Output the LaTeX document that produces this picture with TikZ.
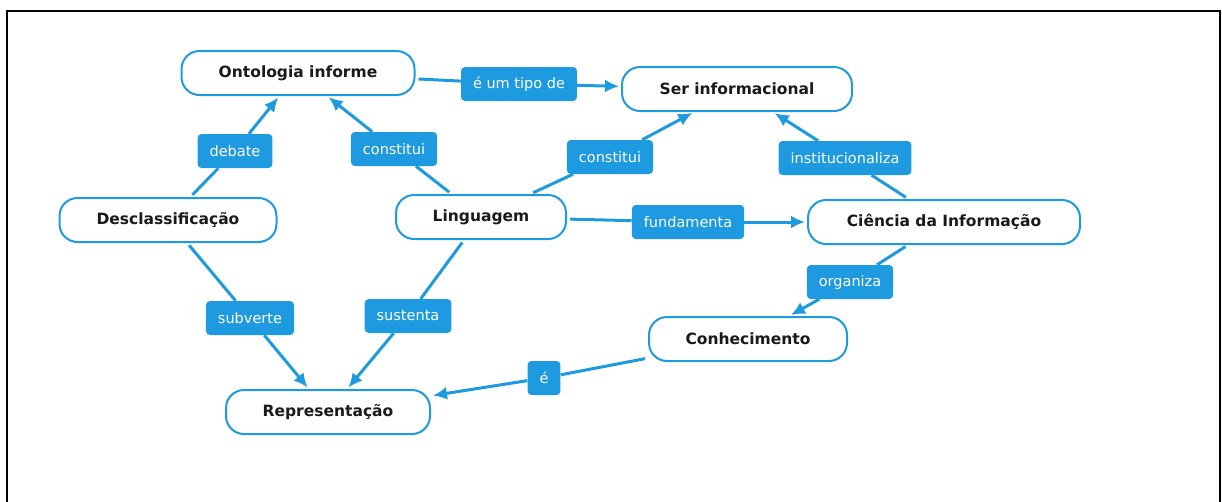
\documentclass[tikz,border=0pt]{standalone}
\usepackage{fontspec}
\setmainfont{DejaVu Sans}
\usetikzlibrary{arrows.meta}
\definecolor{cmblue}{HTML}{1E9BE0}
\definecolor{cmtext}{HTML}{1A1A1A}
\begin{document}
\begin{tikzpicture}[x=1pt,y=-1pt,
 concept/.style={draw=cmblue, line width=2pt, fill=white, rounded corners=18pt, minimum height=44pt, inner sep=0pt, font=\fontsize{15.5}{18}\selectfont\bfseries, text=cmtext},
 lbl/.style={fill=cmblue, rounded corners=4pt, minimum height=34pt, inner xsep=12pt, inner ysep=0pt, text=white, font=\fontsize{14.5}{17}\selectfont},
 link/.style={draw=cmblue, line width=3pt, shorten <=3pt},
 arr/.style={draw=cmblue, line width=3pt, -{Latex[length=14pt,width=13pt]}, shorten >=2pt}
]
\useasboundingbox (0,0) rectangle (1222,501);
\begin{scope}
\clip (0,0) rectangle (1222,501);
\draw[line width=2.2pt] (7,11) rectangle (1220,530);
\end{scope}

% concepts
\node[concept, minimum width=233pt] (onto) at (298,73) {Ontologia informe};
\node[concept, minimum width=230pt] (ser) at (737,89) {Ser informacional};
\node[concept, minimum width=217pt] (desc) at (168,220) {Desclassificação};
\node[concept, minimum width=170pt] (ling) at (481,217) {Linguagem};
\node[concept, minimum width=272pt] (ci) at (944,222) {Ciência da Informação};
\node[concept, minimum width=198pt] (conh) at (748,339) {Conhecimento};
\node[concept, minimum width=204pt] (repr) at (328,412) {Representação};

% labels
\node[lbl] (tipo) at (519,84) {é um tipo de};
\node[lbl] (deb) at (235,151) {debate};
\node[lbl] (con1) at (394,149) {constitui};
\node[lbl] (con2) at (610,157) {constitui};
\node[lbl] (inst) at (845,158) {institucionaliza};
\node[lbl] (fund) at (688,222) {fundamenta};
\node[lbl] (org) at (850,282) {organiza};
\node[lbl] (subv) at (250,318) {subverte};
\node[lbl] (sust) at (408,316) {sustenta};
\node[lbl] (eh) at (544,378) {é};

% connectors
\draw[link] (onto) -- (tipo); \draw[arr] (tipo) -- (ser);
\draw[link] (desc) -- (deb); \draw[arr] (deb) -- (onto);
\draw[link] (ling) -- (con1); \draw[arr] (con1) -- (onto);
\draw[link] (ling) -- (con2); \draw[arr] (con2) -- (ser);
\draw[link] (ci) -- (inst); \draw[arr] (inst) -- (ser);
\draw[link] (ling) -- (fund); \draw[arr] (fund) -- (ci);
\draw[link] (ci) -- (org); \draw[arr] (org) -- (conh);
\draw[link] (desc) -- (subv); \draw[arr] (subv) -- (repr);
\draw[link] (ling) -- (sust); \draw[arr] (sust) -- (repr);
\draw[link] (conh) -- (eh); \draw[arr] (eh) -- (repr);
\end{tikzpicture}
\end{document}
